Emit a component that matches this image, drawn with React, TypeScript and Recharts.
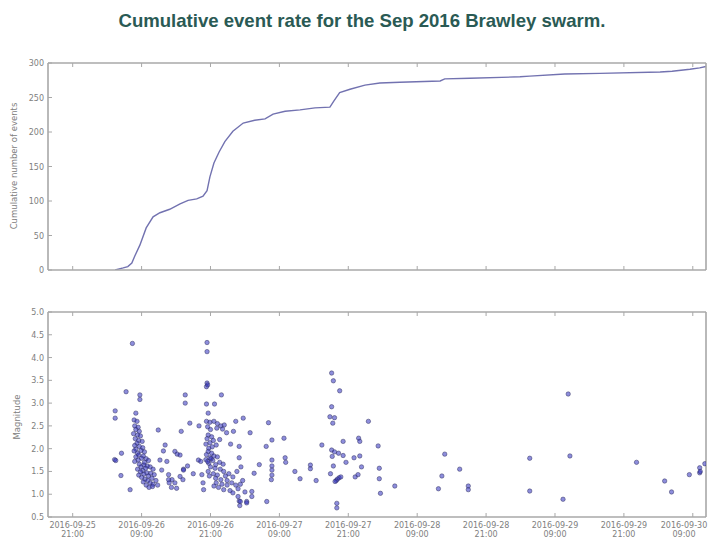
import React from "react";
import { LineChart, Line, ScatterChart, Scatter, XAxis, YAxis } from "recharts";

// x values are hours after 2016-09-25 21:00
const xTicks = [0, 12, 24, 36, 48, 60, 72, 84, 96, 108];
const xTickDates = ["2016-09-25", "2016-09-26", "2016-09-26", "2016-09-27", "2016-09-27", "2016-09-28", "2016-09-28", "2016-09-29", "2016-09-29", "2016-09-30"];
const xTickTimes = ["21:00", "09:00", "21:00", "09:00", "21:00", "09:00", "21:00", "09:00", "21:00", "09:00"];
const xDomain = [-4.3, 110.3];

const cumTicks = [0, 50, 100, 150, 200, 250, 300];
const magTicks = [0.5, 1.0, 1.5, 2.0, 2.5, 3.0, 3.5, 4.0, 4.5, 5.0];

const cumHours = [7.4, 8.8, 9.6, 10.3, 10.8, 11.7, 12.8, 14.0, 15.2, 16.9, 18.7, 20.1, 21.6, 22.7, 23.4, 23.9, 24.6, 25.5, 26.5, 27.9, 29.7, 31.7, 33.5, 34.9, 37.0, 39.6, 42.2, 44.8, 45.5, 46.5, 48.3, 50.9, 53.5, 57.0, 64.0, 64.8, 69.2, 77.9, 79.6, 85.7, 91.8, 102.3, 104.4, 107.5, 109.2, 110.3];
const cumCounts = [0, 3, 5, 10, 20, 36, 61, 77, 83, 88, 96, 101, 103, 107, 115, 135, 155, 171, 186, 201, 213, 217, 219, 226, 230, 232, 235, 236, 245, 257, 262, 268, 271, 272, 274, 277, 278, 280, 281, 284, 285, 287, 288, 291, 293, 295];

const earlyQuakes = [[7.4, 2.83], [7.4, 2.67], [7.3, 1.76], [7.5, 1.74], [8.5, 1.9], [8.4, 1.41], [9.3, 3.25], [10.4, 4.31], [10.0, 1.1], [11.7, 3.18], [11.7, 3.08]];
const clusterA = [
  [11.0, 2.78], [10.7, 2.63], [11.2, 2.6], [10.8, 2.5], [11.4, 2.47], [11.0, 2.42], [11.6, 2.38],
  [10.6, 2.33], [11.3, 2.3], [11.8, 2.28], [10.9, 2.22], [11.5, 2.18], [12.1, 2.16], [11.2, 2.12],
  [10.8, 2.07], [11.6, 2.05], [12.2, 2.02], [11.0, 1.99], [11.9, 1.96], [12.5, 1.93], [11.3, 1.9], [10.7, 1.95],
  [11.5, 1.86], [12.3, 1.84], [11.0, 1.82], [12.0, 1.79], [12.8, 1.78], [11.4, 1.75], [13.2, 1.74], [10.8, 1.72], [12.5, 1.7],
  [11.6, 1.66], [12.4, 1.64], [13.0, 1.62], [11.9, 1.6], [13.5, 1.6], [12.7, 1.57], [11.3, 1.55], [14.0, 1.55], [12.2, 1.52],
  [11.8, 1.49], [12.9, 1.47], [13.6, 1.46], [12.4, 1.44], [14.2, 1.43], [11.5, 1.42], [13.2, 1.4], [12.0, 1.37], [13.8, 1.35], [12.6, 1.33],
  [13.1, 1.3], [14.5, 1.3], [12.3, 1.27], [13.5, 1.25], [14.0, 1.22], [12.8, 1.2], [13.9, 1.17], [13.3, 1.15], [14.8, 1.2],
];
const betweenAB = [
  [14.9, 2.41], [16.1, 2.08], [15.2, 1.75], [15.5, 1.53], [16.4, 1.72], [16.7, 1.43], [17.8, 1.94], [18.2, 1.88], [18.7, 1.86], [18.9, 2.38],
  [19.3, 1.55], [19.3, 1.53], [19.6, 3.18], [19.6, 3.0], [20.4, 2.56], [17.3, 1.32], [17.8, 1.25], [17.2, 1.15], [18.1, 1.13], [16.7, 1.32],
  [16.8, 1.25], [18.7, 1.39], [19.2, 1.32], [21.9, 1.75], [22.3, 1.72], [22.0, 2.5], [22.5, 1.43], [22.7, 1.25], [22.8, 1.1], [20.0, 1.62],
  [21.0, 1.45], [15.8, 1.95],
];
const clusterB = [
  [23.4, 4.33], [23.4, 4.13], [23.4, 3.44], [23.3, 3.36], [23.5, 3.4], [23.3, 2.98], [24.7, 2.98], [25.9, 3.18], [23.6, 2.78],
  [23.3, 2.6], [23.9, 2.58], [24.6, 2.6], [25.2, 2.55], [25.8, 2.5], [26.4, 2.52], [26.1, 2.43], [25.1, 2.45], [24.0, 2.42], [23.5, 2.48], [28.0, 2.38], [26.8, 2.35],
  [23.6, 2.3], [24.2, 2.26], [23.4, 2.22], [24.5, 2.18], [23.9, 2.13], [23.2, 2.1], [25.0, 2.08], [24.3, 2.04], [23.7, 2.01], [25.6, 2.2], [27.5, 2.1], [29.0, 2.05],
  [23.6, 1.94], [24.2, 1.9], [23.3, 1.87], [24.6, 1.84], [23.9, 1.8], [25.2, 1.82], [23.2, 1.76], [24.4, 1.74], [25.6, 1.7], [23.7, 1.68], [26.2, 1.66], [24.9, 1.65], [23.5, 1.72], [24.1, 1.78],
  [24.0, 1.6], [24.8, 1.57], [25.7, 1.55], [26.3, 1.5], [23.6, 1.5], [24.5, 1.45], [25.2, 1.42], [26.6, 1.4], [27.2, 1.45], [27.9, 1.38], [24.9, 1.35], [25.8, 1.32], [26.9, 1.3], [23.8, 1.4], [28.6, 1.5], [29.3, 1.6], [29.0, 1.8],
  [25.0, 1.25], [26.0, 1.22], [26.9, 1.2], [27.7, 1.25], [28.4, 1.2], [29.2, 1.22], [26.3, 1.1], [27.4, 1.08], [25.4, 1.15], [28.8, 1.12], [27.9, 1.03], [24.6, 1.18],
  [28.8, 0.95], [29.0, 0.85], [29.1, 0.75], [29.2, 0.84], [30.3, 0.84], [30.0, 1.05], [29.6, 1.3], [28.4, 2.6], [29.7, 2.67],
];
const middleQuakes = [
  [31.2, 1.06], [31.2, 0.95], [30.3, 0.81], [31.6, 1.46], [33.7, 2.05], [34.1, 2.57], [34.7, 2.19], [36.8, 2.23], [33.8, 0.84], [34.7, 1.75],
  [34.7, 1.62], [34.7, 1.53], [34.7, 1.42], [34.6, 1.32], [37.0, 1.8], [37.1, 1.7], [38.7, 1.5], [39.6, 1.34], [41.4, 1.64], [41.4, 1.56],
  [42.4, 1.3], [43.4, 2.08], [30.9, 2.35], [32.5, 1.65],
];
const clusterC = [
  [45.1, 3.66], [45.4, 3.49], [46.5, 3.27], [45.1, 2.92], [44.8, 2.7], [45.6, 2.68], [45.3, 2.56], [45.1, 1.97], [45.6, 1.93], [46.3, 1.9],
  [47.1, 1.85], [45.2, 1.83], [47.1, 2.16], [45.9, 1.3], [46.1, 1.33], [46.4, 1.36], [46.7, 1.38], [45.7, 1.28], [46.0, 0.8], [46.0, 0.7],
  [45.4, 1.62], [44.9, 1.45], [47.6, 1.7],
];
const laterQuakes = [
  [49.2, 1.38], [49.7, 1.43], [49.8, 2.23], [50.0, 2.16], [50.0, 1.84], [50.3, 1.6], [51.5, 2.6], [53.2, 2.06], [53.4, 1.57], [53.4, 1.34],
  [53.6, 1.02], [56.1, 1.18], [49.0, 1.8],
];
const lateQuakes = [
  [63.7, 1.12], [64.3, 1.4], [64.8, 1.88], [67.4, 1.55], [68.9, 1.18], [68.9, 1.1], [79.6, 1.79], [79.6, 1.07], [85.4, 0.89], [86.3, 3.2],
  [86.6, 1.84], [98.2, 1.7], [103.1, 1.29], [104.3, 1.05], [107.4, 1.43], [109.2, 1.58], [109.2, 1.47], [109.3, 1.5], [110.1, 1.67],
];

const cumData = cumHours.map((h, i) => ({ h, n: cumCounts[i] }));
const quakeData = [...earlyQuakes, ...clusterA, ...betweenAB, ...clusterB, ...middleQuakes, ...clusterC, ...laterQuakes, ...lateQuakes].map(([h, mag]) => ({ h, mag }));

const FRAME = "#a8a8a8";
const TICK_TEXT = "#808080";
const FONT = "DejaVu Sans, sans-serif";

const Empty = () => <g />;

const DateTick = (p: any) => {
  const i = xTicks.indexOf(p.payload.value);
  const x = Math.min(p.x, 684);
  return (
    <g>
      <text x={x} y={p.y + 7} textAnchor="middle" fontSize={8} fontFamily={FONT} fill={TICK_TEXT}>{xTickDates[i]}</text>
      <text x={x} y={p.y + 16} textAnchor="middle" fontSize={8} fontFamily={FONT} fill={TICK_TEXT}>{xTickTimes[i]}</text>
    </g>
  );
};

const NumTick = (digits: number) => (p: any) => (
  <text x={p.x} y={p.y + 3} textAnchor="end" fontSize={8} fontFamily={FONT} fill={TICK_TEXT}>
    {Number(p.payload.value).toFixed(digits)}
  </text>
);
const CumTick = NumTick(0);
const MagTick = NumTick(1);

const CumLabel = () => (
  <text x={17} y={166} transform="rotate(-90 17 166)" textAnchor="middle" fontSize={8.5} fontFamily={FONT} fill="#808080">
    Cumulative number of events
  </text>
);
const MagLabel = () => (
  <text x={20} y={127} transform="rotate(-90 20 127)" textAnchor="middle" fontSize={8.5} fontFamily={FONT} fill="#808080">
    Magnitude
  </text>
);

const QuakeDot = (p: any) => (
  <circle cx={p.cx} cy={p.cy} r={2.2} fill="#3030c0" fillOpacity={0.55} stroke="#303060" strokeOpacity={0.7} strokeWidth={0.7} />
);

const axisLine = { stroke: FRAME, strokeWidth: 1.6 };
const tickLine = { stroke: FRAME, strokeWidth: 1 };

export default function App() {
  return (
    <div style={{ position: "absolute", left: 0, top: 0, width: 710, height: 540, background: "#fff", overflow: "hidden" }}>
      <svg width={710} height={50} style={{ position: "absolute", left: 0, top: 0 }}>
        <text x={362} y={27} textAnchor="middle" fontSize={19} fontWeight="bold" fontFamily="Liberation Sans, Arial, sans-serif" fill="#2a5a54" textLength={487} lengthAdjust="spacingAndGlyphs">
          Cumulative event rate for the Sep 2016 Brawley swarm.
        </text>
      </svg>
      <div style={{ position: "absolute", left: 0, top: 0 }}>
        <LineChart width={710} height={290} data={cumData} margin={{ top: 62, right: 3, bottom: 19, left: 8 }}>
          <XAxis dataKey="h" type="number" domain={xDomain} ticks={xTicks} interval={0} allowDataOverflow height={1} axisLine={axisLine} tickLine={tickLine} tickSize={-4} tick={Empty} />
          <XAxis xAxisId="t" orientation="top" dataKey="h" type="number" domain={xDomain} ticks={xTicks} interval={0} allowDataOverflow height={1} axisLine={axisLine} tickLine={tickLine} tickSize={-4} tick={Empty} />
          <YAxis type="number" domain={[0, 300]} ticks={cumTicks} interval={0} allowDataOverflow width={40} axisLine={axisLine} tickLine={tickLine} tickSize={-4} tickMargin={8} tick={CumTick} label={<CumLabel />} />
          <YAxis yAxisId="r" orientation="right" type="number" domain={[0, 300]} ticks={cumTicks} interval={0} width={1} axisLine={axisLine} tickLine={tickLine} tickSize={-4} tick={Empty} />
          <Line dataKey="n" type="linear" stroke="#7272b0" strokeWidth={1.4} dot={false} isAnimationActive={false} />
        </LineChart>
      </div>
      <div style={{ position: "absolute", left: 0, top: 290 }}>
        <ScatterChart width={710} height={250} margin={{ top: 21, right: 3, bottom: 1, left: 8 }}>
          <XAxis dataKey="h" type="number" domain={xDomain} ticks={xTicks} interval={0} allowDataOverflow height={22} axisLine={axisLine} tickLine={tickLine} tickSize={-4} tickMargin={8} tick={DateTick} />
          <XAxis xAxisId="t" orientation="top" dataKey="h" type="number" domain={xDomain} ticks={xTicks} interval={0} allowDataOverflow height={1} axisLine={axisLine} tickLine={tickLine} tickSize={-4} tick={Empty} />
          <YAxis dataKey="mag" type="number" domain={[0.5, 5]} ticks={magTicks} interval={0} allowDataOverflow width={40} axisLine={axisLine} tickLine={tickLine} tickSize={-4} tickMargin={8} tick={MagTick} label={<MagLabel />} />
          <YAxis yAxisId="r" orientation="right" dataKey="mag" type="number" domain={[0.5, 5]} ticks={magTicks} interval={0} width={1} axisLine={axisLine} tickLine={tickLine} tickSize={-4} tick={Empty} />
          <Scatter data={quakeData} dataKey="mag" shape={QuakeDot} isAnimationActive={false} />
        </ScatterChart>
      </div>
    </div>
  );
}
